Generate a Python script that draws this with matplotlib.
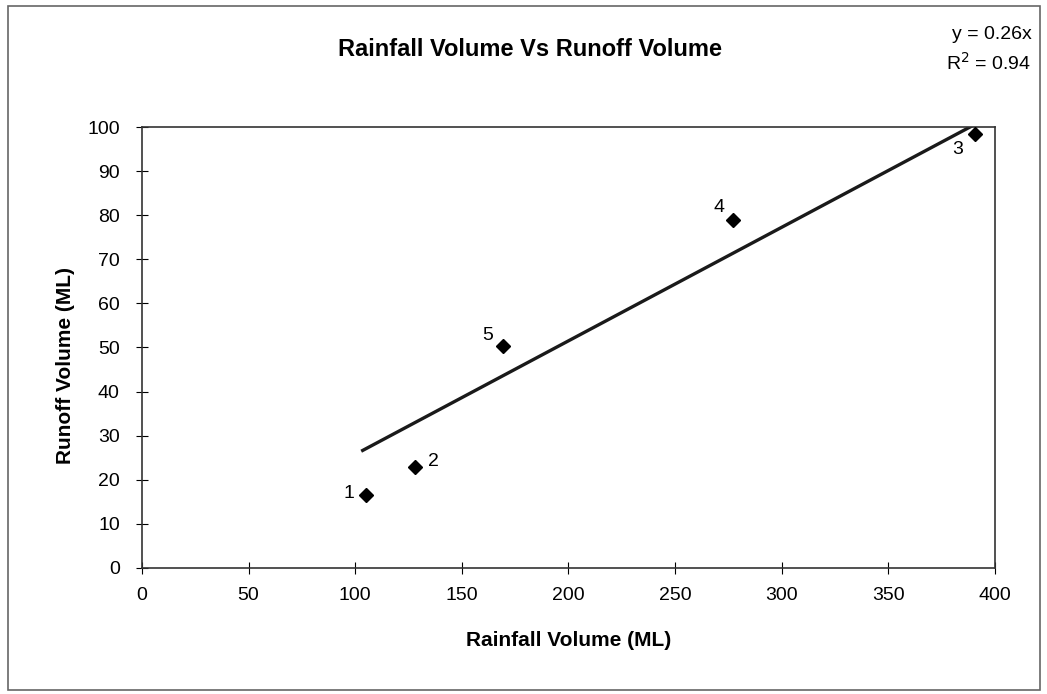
import numpy as np
import matplotlib.pyplot as plt
from matplotlib.patches import Rectangle

plt.rcParams['font.family'] = ['Liberation Sans', 'DejaVu Sans']

# Data
event_ids = ["1", "2", "3", "4", "5"]
rainfall = [105, 128, 390.5, 277, 169.3]
runoff = [16.6, 22.9, 98.4, 78.9, 50.3]
label_offsets = [(-12, 1), (13, 4), (-12, -11), (-10, 9), (-11, 8)]

x = np.array(rainfall)
y = np.array(runoff)
slope = np.sum(x * y) / np.sum(x * x)

fig = plt.figure(figsize=(10.47, 6.94), dpi=100)
ax = fig.add_axes([0.1356, 0.1816, 0.8147, 0.6354])

# Trendline through origin
xl = np.array([x.min() - 1.5, x.max()])
ax.plot(xl, slope * xl, "-", color="#1a1a1a", linewidth=2.4, zorder=2)

ax.plot(x, y, "D", color="black", markersize=7, zorder=3)
for eid, xi, yi, (dx, dy) in zip(event_ids, rainfall, runoff, label_offsets):
    ax.annotate(eid, (xi, yi), xytext=(dx, dy), textcoords="offset points",
                ha="center", va="center", fontsize=14)

ax.set_xlim(0, 400)
ax.set_ylim(0, 100)
ax.set_xticks(range(0, 401, 50))
ax.set_yticks(range(0, 101, 10))
ax.tick_params(direction="inout", length=8, labelsize=14)
ax.tick_params(axis="x", pad=10)
ax.tick_params(axis="y", pad=12)
for s in ax.spines.values():
    s.set_linewidth(1.2)
    s.set_color("#333333")

ax.set_xlabel("Rainfall Volume (ML)", fontsize=15, fontweight="bold", labelpad=19)
ax.set_ylabel("Runoff Volume (ML)", fontsize=15, fontweight="bold")
ax.yaxis.set_label_coords(-0.079, 0.46)

fig.text(0.506, 0.928, "Rainfall Volume Vs Runoff Volume", ha="center", va="center",
         fontsize=17, fontweight="bold")
fig.text(0.985, 0.950, "y = 0.26x", ha="right", va="center", fontsize=14)
fig.text(0.985, 0.909, "R$^2$ = 0.94", ha="right", va="center", fontsize=14)

# Outer chart frame
fig.patches.append(Rectangle((0.008, 0.006), 0.985, 0.986, transform=fig.transFigure,
                             fill=False, edgecolor="#666666", linewidth=1.2))

fig.savefig("out.png", dpi=100)
